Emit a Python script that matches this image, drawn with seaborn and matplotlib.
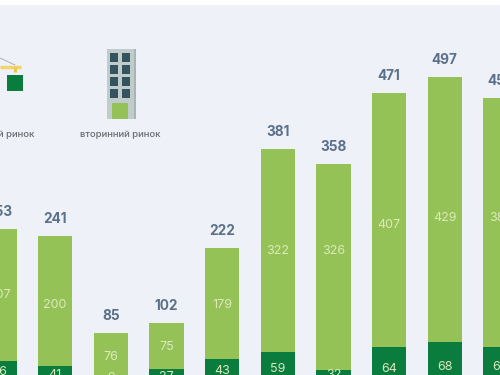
import matplotlib
matplotlib.use("Agg")
import matplotlib.pyplot as plt
import seaborn as sns
import pandas as pd
from matplotlib.patches import Rectangle

periods = ["P1", "P2", "P3", "P4", "P5", "P6", "P7", "P8", "P9", "P10"]
# printed labels
total_labels = [253, 241, 85, 102, 222, 381, 358, 471, 497, 456]
secondary_labels = [207, 200, 76, 75, 179, 322, 326, 407, 429, 388]
primary_labels = [46, 41, 9, 27, 43, 59, 32, 64, 68, 68]
# bar heights (the source artwork is not exactly to scale)
total_heights = [253, 241, 85, 102, 222, 381, 358, 471, 497, 463]
primary_heights = [41, 32, 9, 28, 43, 55, 26, 62, 70, 62]

LIGHT, DARK = "#95C256", "#0A7C3E"
BG = "#EFF1F8"
TOTAL_C, INNER_C, LEG_C = "#5B7189", "#DCE9BC", "#6A6C70"

# pixel layout
PX_BASE, PX_PER_UNIT = 386.0, 0.6215
PX0, PX_STEP = -0.6, 55.67
total_offset = 17.0
secondary_y = [295, 304.5, 357.5, 346.5, 304.5, 251.5, 251.5, 225.5, 218, 218]
primary_y = [372, 375, 378, 376.5, 371.5, 369, 375.5, 369, 367.5, 367.5]

sns.set_theme(style="white")
plt.rcParams["font.family"] = ["Inter", "DejaVu Sans"]

fig = plt.figure(figsize=(5, 3.75), dpi=100, facecolor="white")
ax = fig.add_axes([0, 0, 1, 370 / 375])
ax.set_facecolor(BG)

df = pd.DataFrame({"period": periods, "total": total_heights, "primary": primary_heights})
sns.barplot(data=df, x="period", y="total", color=LIGHT, saturation=1, width=0.616,
            linewidth=0, ax=ax)
sns.barplot(data=df, x="period", y="primary", color=DARK, saturation=1, width=0.616,
            linewidth=0, ax=ax)

ax.set_xlim((0 - PX0) / PX_STEP, (500 - PX0) / PX_STEP)
ax.set_ylim((PX_BASE - 375) / PX_PER_UNIT, (PX_BASE - 5) / PX_PER_UNIT)
ax.set_xlabel("")
ax.set_ylabel("")
ax.set_xticks([])
ax.set_yticks([])
for s in ax.spines.values():
    s.set_visible(False)


def to_val(py):
    return (PX_BASE - py) / PX_PER_UNIT


for i, (t, h) in enumerate(zip(total_labels, total_heights)):
    py = PX_BASE - h * PX_PER_UNIT - total_offset
    ax.text(i, to_val(py), str(t), ha="center", va="center", fontsize=9.8,
            fontweight="bold", color=TOTAL_C, clip_on=True)
for i, v in enumerate(secondary_labels):
    ax.text(i, to_val(secondary_y[i]), str(v), ha="center", va="center", fontsize=9,
            color=INNER_C, clip_on=True)
for i, v in enumerate(primary_labels):
    ax.text(i, to_val(primary_y[i]), str(v), ha="center", va="center", fontsize=9,
            color=INNER_C, clip_on=True)

# icons and legend captions in pixel coordinates
ov = fig.add_axes([0, 0, 1, 1], facecolor="none")
ov.set_xlim(0, 500)
ov.set_ylim(375, 0)
ov.axis("off")

ov.add_patch(Rectangle((106.7, 48.7), 29.3, 70.6, color="#C0CCCC", lw=0))
ov.add_patch(Rectangle((134, 48.7), 2, 70.6, color="#A9B5B5", lw=0))
for wx in (110, 122):
    for wy in (53.3, 65.3, 77.3, 89.3):
        ov.add_patch(Rectangle((wx, wy), 8.3, 8.4, color="#33545F", lw=0))
ov.add_patch(Rectangle((112.3, 103.3), 16, 15.8, color=LIGHT, lw=0))

ov.plot([0, 15], [58, 65], color="#A9A9A0", lw=0.6)
ov.plot([0, 21], [67, 67], color="#F3D468", lw=2.4, solid_capstyle="butt")
ov.plot([14.5, 14.5], [67, 72], color="#E9C84E", lw=2.2, solid_capstyle="butt")
ov.add_patch(Rectangle((7, 75), 16, 15.7, color=DARK, lw=0))

ov.text(120.5, 134.7, "вторинний ринок", ha="center", va="center", fontsize=6.85,
        color=LEG_C, fontweight="medium")
ov.text(34.5, 134.7, "первинний ринок", ha="right", va="center", fontsize=6.85,
        color=LEG_C, fontweight="medium")

fig.savefig("out.png", dpi=100, facecolor="white")
